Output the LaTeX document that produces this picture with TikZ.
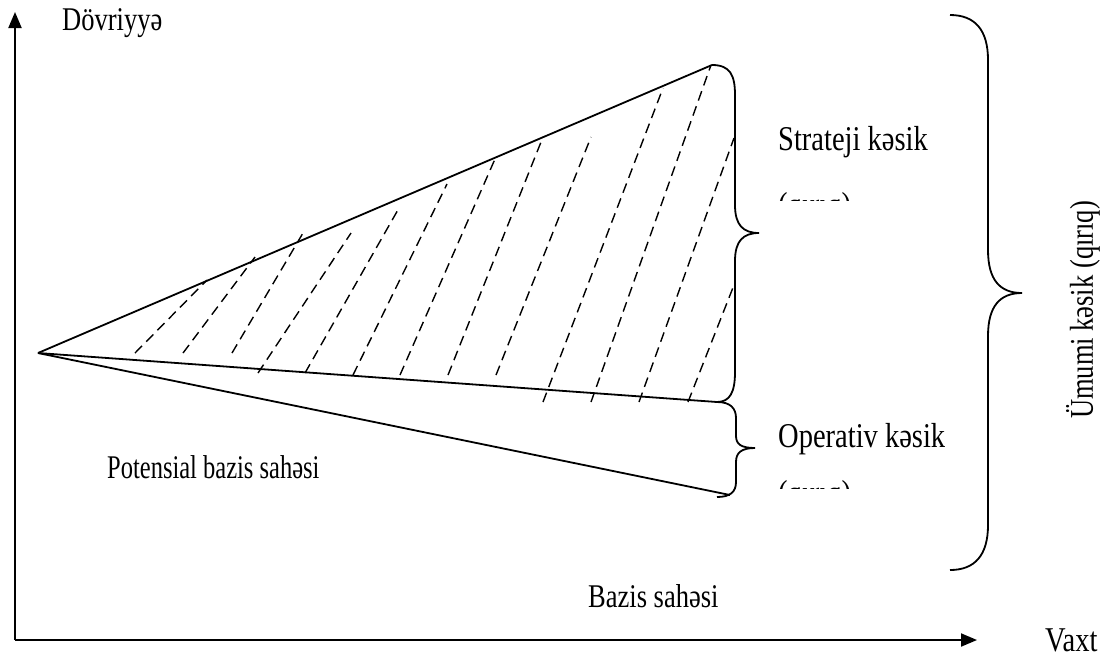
\documentclass[tikz,border=0pt]{standalone}
\usepackage{fontspec}
\setmainfont{Liberation Serif}
\usetikzlibrary{arrows.meta}
\tikzset{
  axisline/.style={line width=2pt,-{Triangle[length=16pt,width=13pt]}},
  shapeline/.style={line width=1.8pt},
  bracepath/.style={line width=1.8pt},
  hatch/.style={line width=1.4pt,dash pattern=on 10pt off 6pt},
  lbl/.style={inner sep=0pt,yscale=1.25,font=\fontsize{26.5}{31}\selectfont},
  lblbig/.style={inner sep=0pt,yscale=1.22,font=\fontsize{28.5}{33}\selectfont},
  lblsmall/.style={inner sep=0pt,yscale=1.35,font=\fontsize{24.5}{29}\selectfont}
}
\begin{document}
\begin{tikzpicture}[x=1pt,y=-1pt]
\useasboundingbox (0,0) rectangle (1115,657);
% key points
\coordinate (origin) at (15,640);
\coordinate (ytip) at (15,12);
\coordinate (xtip) at (977,640);
\coordinate (apex) at (38,353);
\coordinate (top) at (712,65);
\coordinate (mid) at (717,402);
\coordinate (low) at (730,495);
% axes
\draw[axisline] (origin) -- (ytip);
\draw[axisline] (origin) -- (xtip);
% wedge lines
\draw[shapeline] (apex) -- (top);
\draw[shapeline] (apex) -- (mid);
\draw[shapeline] (apex) -- (low);
% hatching
\draw[hatch] (135,353) -- (207,280);
\draw[hatch] (183,353) -- (255,257);
\draw[hatch] (232,353) -- (303,233);
\draw[hatch] (258,373) -- (351,233);
\draw[hatch] (305,373) -- (399,208);
\draw[hatch] (353,375) -- (447,184);
\draw[hatch] (400,375) -- (495,159);
\draw[hatch] (448,375) -- (543,137);
\draw[hatch] (496,375) -- (591,137);
\draw[hatch] (543,402) -- (663,88);
\draw[hatch] (591,402) -- (711,65);
\draw[hatch] (639,402) -- (734,138);
\draw[hatch] (688,402) -- (734,285);
% braces
\draw[bracepath] (top) .. controls (730,65) and (735,75) .. (735,95) -- (735,205)
  .. controls (735,225) and (743,233) .. (759,233)
  .. controls (743,233) and (735,241) .. (735,261) -- (735,372)
  .. controls (735,392) and (730,402) .. (mid);
\draw[bracepath] (mid) .. controls (730,402) and (736,408) .. (736,418) -- (736,436)
  .. controls (736,444) and (741,448) .. (755,448)
  .. controls (741,448) and (736,453) .. (736,462) -- (736,482)
  .. controls (736,492) and (730,497) .. (717,497);
\draw[bracepath] (950,15) .. controls (975,15) and (988,30) .. (988,60) -- (988,250)
  .. controls (988,280) and (1000,293) .. (1022,293)
  .. controls (1000,293) and (988,306) .. (988,336) -- (988,525)
  .. controls (988,555) and (975,570) .. (950,570);
% labels
\node[lbl,anchor=base west] (dov) at (62,30) {Dövriyyə};
\node[lblbig,anchor=base west] (str) at (778,150) {Strateji kəsik};
\begin{scope}
  \clip (760,150) rectangle (900,200.5);
  \node[lblbig,anchor=base west] (strq) at (778,216) {(qırıq)};
\end{scope}
\node[lblbig,anchor=base west] (opr) at (778,447) {Operativ kəsik};
\begin{scope}
  \clip (760,460) rectangle (900,488.5);
  \node[lblbig,anchor=base west] (oprq) at (778,504) {(qırıq)};
\end{scope}
\node[lblsmall,anchor=base west] (pot) at (107,478) {Potensial bazis sahəsi};
\node[lbl,anchor=base west] (baz) at (588,607) {Bazis sahəsi};
\node[lblbig,anchor=base west] (vax) at (1045,651) {Vaxt};
\node[rotate=90,lbl] (umu) at (1083,310) {Ümumi kəsik (qırıq)};
\end{tikzpicture}
\end{document}
